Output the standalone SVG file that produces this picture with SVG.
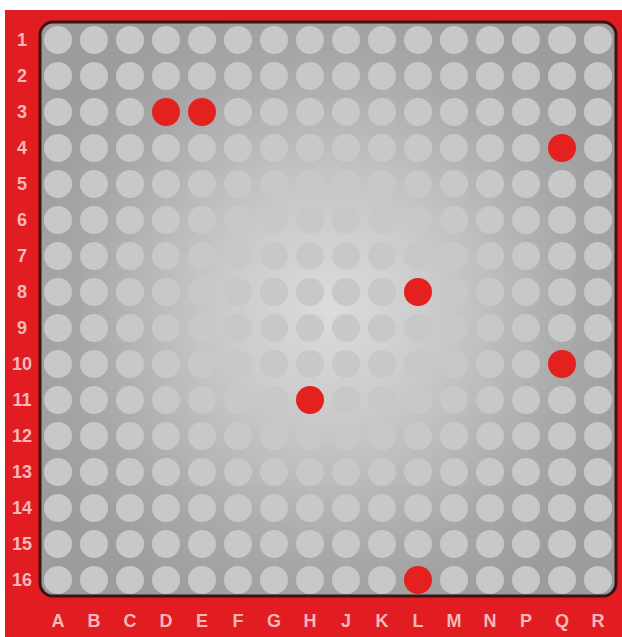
<svg xmlns="http://www.w3.org/2000/svg" width="622" height="637" viewBox="0 0 622 637">
<defs>
<radialGradient id="bg" cx="330" cy="310" r="330" gradientUnits="userSpaceOnUse">
<stop offset="0" stop-color="#dcdcdc"/>
<stop offset="0.35" stop-color="#c9c9c9"/>
<stop offset="0.75" stop-color="#a8a8a8"/>
<stop offset="1" stop-color="#9c9c9c"/>
</radialGradient>
<style>
.lbl{font-family:"Liberation Sans",Arial,sans-serif;font-weight:bold;font-size:18px;fill:#f5b9b9;text-anchor:middle}
.h{fill:#c8c8c8}
.r{fill:#e3211f}
</style>
</defs>
<rect x="0" y="0" width="622" height="637" fill="#ffffff"/>
<rect x="5" y="10" width="617" height="627" fill="#e11d22"/>
<rect x="40" y="22" width="576" height="574" rx="13" fill="url(#bg)" stroke="#3d1212" stroke-width="3"/>
<g id="holes">
<g id="row1"><circle class="h" cx="58" cy="40" r="14"/><circle class="h" cx="94" cy="40" r="14"/><circle class="h" cx="130" cy="40" r="14"/><circle class="h" cx="166" cy="40" r="14"/><circle class="h" cx="202" cy="40" r="14"/><circle class="h" cx="238" cy="40" r="14"/><circle class="h" cx="274" cy="40" r="14"/><circle class="h" cx="310" cy="40" r="14"/><circle class="h" cx="346" cy="40" r="14"/><circle class="h" cx="382" cy="40" r="14"/><circle class="h" cx="418" cy="40" r="14"/><circle class="h" cx="454" cy="40" r="14"/><circle class="h" cx="490" cy="40" r="14"/><circle class="h" cx="526" cy="40" r="14"/><circle class="h" cx="562" cy="40" r="14"/><circle class="h" cx="598" cy="40" r="14"/></g>
<g id="row2"><circle class="h" cx="58" cy="76" r="14"/><circle class="h" cx="94" cy="76" r="14"/><circle class="h" cx="130" cy="76" r="14"/><circle class="h" cx="166" cy="76" r="14"/><circle class="h" cx="202" cy="76" r="14"/><circle class="h" cx="238" cy="76" r="14"/><circle class="h" cx="274" cy="76" r="14"/><circle class="h" cx="310" cy="76" r="14"/><circle class="h" cx="346" cy="76" r="14"/><circle class="h" cx="382" cy="76" r="14"/><circle class="h" cx="418" cy="76" r="14"/><circle class="h" cx="454" cy="76" r="14"/><circle class="h" cx="490" cy="76" r="14"/><circle class="h" cx="526" cy="76" r="14"/><circle class="h" cx="562" cy="76" r="14"/><circle class="h" cx="598" cy="76" r="14"/></g>
<g id="row3"><circle class="h" cx="58" cy="112" r="14"/><circle class="h" cx="94" cy="112" r="14"/><circle class="h" cx="130" cy="112" r="14"/><circle class="r" cx="166" cy="112" r="14"/><circle class="r" cx="202" cy="112" r="14"/><circle class="h" cx="238" cy="112" r="14"/><circle class="h" cx="274" cy="112" r="14"/><circle class="h" cx="310" cy="112" r="14"/><circle class="h" cx="346" cy="112" r="14"/><circle class="h" cx="382" cy="112" r="14"/><circle class="h" cx="418" cy="112" r="14"/><circle class="h" cx="454" cy="112" r="14"/><circle class="h" cx="490" cy="112" r="14"/><circle class="h" cx="526" cy="112" r="14"/><circle class="h" cx="562" cy="112" r="14"/><circle class="h" cx="598" cy="112" r="14"/></g>
<g id="row4"><circle class="h" cx="58" cy="148" r="14"/><circle class="h" cx="94" cy="148" r="14"/><circle class="h" cx="130" cy="148" r="14"/><circle class="h" cx="166" cy="148" r="14"/><circle class="h" cx="202" cy="148" r="14"/><circle class="h" cx="238" cy="148" r="14"/><circle class="h" cx="274" cy="148" r="14"/><circle class="h" cx="310" cy="148" r="14"/><circle class="h" cx="346" cy="148" r="14"/><circle class="h" cx="382" cy="148" r="14"/><circle class="h" cx="418" cy="148" r="14"/><circle class="h" cx="454" cy="148" r="14"/><circle class="h" cx="490" cy="148" r="14"/><circle class="h" cx="526" cy="148" r="14"/><circle class="r" cx="562" cy="148" r="14"/><circle class="h" cx="598" cy="148" r="14"/></g>
<g id="row5"><circle class="h" cx="58" cy="184" r="14"/><circle class="h" cx="94" cy="184" r="14"/><circle class="h" cx="130" cy="184" r="14"/><circle class="h" cx="166" cy="184" r="14"/><circle class="h" cx="202" cy="184" r="14"/><circle class="h" cx="238" cy="184" r="14"/><circle class="h" cx="274" cy="184" r="14"/><circle class="h" cx="310" cy="184" r="14"/><circle class="h" cx="346" cy="184" r="14"/><circle class="h" cx="382" cy="184" r="14"/><circle class="h" cx="418" cy="184" r="14"/><circle class="h" cx="454" cy="184" r="14"/><circle class="h" cx="490" cy="184" r="14"/><circle class="h" cx="526" cy="184" r="14"/><circle class="h" cx="562" cy="184" r="14"/><circle class="h" cx="598" cy="184" r="14"/></g>
<g id="row6"><circle class="h" cx="58" cy="220" r="14"/><circle class="h" cx="94" cy="220" r="14"/><circle class="h" cx="130" cy="220" r="14"/><circle class="h" cx="166" cy="220" r="14"/><circle class="h" cx="202" cy="220" r="14"/><circle class="h" cx="238" cy="220" r="14"/><circle class="h" cx="274" cy="220" r="14"/><circle class="h" cx="310" cy="220" r="14"/><circle class="h" cx="346" cy="220" r="14"/><circle class="h" cx="382" cy="220" r="14"/><circle class="h" cx="418" cy="220" r="14"/><circle class="h" cx="454" cy="220" r="14"/><circle class="h" cx="490" cy="220" r="14"/><circle class="h" cx="526" cy="220" r="14"/><circle class="h" cx="562" cy="220" r="14"/><circle class="h" cx="598" cy="220" r="14"/></g>
<g id="row7"><circle class="h" cx="58" cy="256" r="14"/><circle class="h" cx="94" cy="256" r="14"/><circle class="h" cx="130" cy="256" r="14"/><circle class="h" cx="166" cy="256" r="14"/><circle class="h" cx="202" cy="256" r="14"/><circle class="h" cx="238" cy="256" r="14"/><circle class="h" cx="274" cy="256" r="14"/><circle class="h" cx="310" cy="256" r="14"/><circle class="h" cx="346" cy="256" r="14"/><circle class="h" cx="382" cy="256" r="14"/><circle class="h" cx="418" cy="256" r="14"/><circle class="h" cx="454" cy="256" r="14"/><circle class="h" cx="490" cy="256" r="14"/><circle class="h" cx="526" cy="256" r="14"/><circle class="h" cx="562" cy="256" r="14"/><circle class="h" cx="598" cy="256" r="14"/></g>
<g id="row8"><circle class="h" cx="58" cy="292" r="14"/><circle class="h" cx="94" cy="292" r="14"/><circle class="h" cx="130" cy="292" r="14"/><circle class="h" cx="166" cy="292" r="14"/><circle class="h" cx="202" cy="292" r="14"/><circle class="h" cx="238" cy="292" r="14"/><circle class="h" cx="274" cy="292" r="14"/><circle class="h" cx="310" cy="292" r="14"/><circle class="h" cx="346" cy="292" r="14"/><circle class="h" cx="382" cy="292" r="14"/><circle class="r" cx="418" cy="292" r="14"/><circle class="h" cx="454" cy="292" r="14"/><circle class="h" cx="490" cy="292" r="14"/><circle class="h" cx="526" cy="292" r="14"/><circle class="h" cx="562" cy="292" r="14"/><circle class="h" cx="598" cy="292" r="14"/></g>
<g id="row9"><circle class="h" cx="58" cy="328" r="14"/><circle class="h" cx="94" cy="328" r="14"/><circle class="h" cx="130" cy="328" r="14"/><circle class="h" cx="166" cy="328" r="14"/><circle class="h" cx="202" cy="328" r="14"/><circle class="h" cx="238" cy="328" r="14"/><circle class="h" cx="274" cy="328" r="14"/><circle class="h" cx="310" cy="328" r="14"/><circle class="h" cx="346" cy="328" r="14"/><circle class="h" cx="382" cy="328" r="14"/><circle class="h" cx="418" cy="328" r="14"/><circle class="h" cx="454" cy="328" r="14"/><circle class="h" cx="490" cy="328" r="14"/><circle class="h" cx="526" cy="328" r="14"/><circle class="h" cx="562" cy="328" r="14"/><circle class="h" cx="598" cy="328" r="14"/></g>
<g id="row10"><circle class="h" cx="58" cy="364" r="14"/><circle class="h" cx="94" cy="364" r="14"/><circle class="h" cx="130" cy="364" r="14"/><circle class="h" cx="166" cy="364" r="14"/><circle class="h" cx="202" cy="364" r="14"/><circle class="h" cx="238" cy="364" r="14"/><circle class="h" cx="274" cy="364" r="14"/><circle class="h" cx="310" cy="364" r="14"/><circle class="h" cx="346" cy="364" r="14"/><circle class="h" cx="382" cy="364" r="14"/><circle class="h" cx="418" cy="364" r="14"/><circle class="h" cx="454" cy="364" r="14"/><circle class="h" cx="490" cy="364" r="14"/><circle class="h" cx="526" cy="364" r="14"/><circle class="r" cx="562" cy="364" r="14"/><circle class="h" cx="598" cy="364" r="14"/></g>
<g id="row11"><circle class="h" cx="58" cy="400" r="14"/><circle class="h" cx="94" cy="400" r="14"/><circle class="h" cx="130" cy="400" r="14"/><circle class="h" cx="166" cy="400" r="14"/><circle class="h" cx="202" cy="400" r="14"/><circle class="h" cx="238" cy="400" r="14"/><circle class="h" cx="274" cy="400" r="14"/><circle class="r" cx="310" cy="400" r="14"/><circle class="h" cx="346" cy="400" r="14"/><circle class="h" cx="382" cy="400" r="14"/><circle class="h" cx="418" cy="400" r="14"/><circle class="h" cx="454" cy="400" r="14"/><circle class="h" cx="490" cy="400" r="14"/><circle class="h" cx="526" cy="400" r="14"/><circle class="h" cx="562" cy="400" r="14"/><circle class="h" cx="598" cy="400" r="14"/></g>
<g id="row12"><circle class="h" cx="58" cy="436" r="14"/><circle class="h" cx="94" cy="436" r="14"/><circle class="h" cx="130" cy="436" r="14"/><circle class="h" cx="166" cy="436" r="14"/><circle class="h" cx="202" cy="436" r="14"/><circle class="h" cx="238" cy="436" r="14"/><circle class="h" cx="274" cy="436" r="14"/><circle class="h" cx="310" cy="436" r="14"/><circle class="h" cx="346" cy="436" r="14"/><circle class="h" cx="382" cy="436" r="14"/><circle class="h" cx="418" cy="436" r="14"/><circle class="h" cx="454" cy="436" r="14"/><circle class="h" cx="490" cy="436" r="14"/><circle class="h" cx="526" cy="436" r="14"/><circle class="h" cx="562" cy="436" r="14"/><circle class="h" cx="598" cy="436" r="14"/></g>
<g id="row13"><circle class="h" cx="58" cy="472" r="14"/><circle class="h" cx="94" cy="472" r="14"/><circle class="h" cx="130" cy="472" r="14"/><circle class="h" cx="166" cy="472" r="14"/><circle class="h" cx="202" cy="472" r="14"/><circle class="h" cx="238" cy="472" r="14"/><circle class="h" cx="274" cy="472" r="14"/><circle class="h" cx="310" cy="472" r="14"/><circle class="h" cx="346" cy="472" r="14"/><circle class="h" cx="382" cy="472" r="14"/><circle class="h" cx="418" cy="472" r="14"/><circle class="h" cx="454" cy="472" r="14"/><circle class="h" cx="490" cy="472" r="14"/><circle class="h" cx="526" cy="472" r="14"/><circle class="h" cx="562" cy="472" r="14"/><circle class="h" cx="598" cy="472" r="14"/></g>
<g id="row14"><circle class="h" cx="58" cy="508" r="14"/><circle class="h" cx="94" cy="508" r="14"/><circle class="h" cx="130" cy="508" r="14"/><circle class="h" cx="166" cy="508" r="14"/><circle class="h" cx="202" cy="508" r="14"/><circle class="h" cx="238" cy="508" r="14"/><circle class="h" cx="274" cy="508" r="14"/><circle class="h" cx="310" cy="508" r="14"/><circle class="h" cx="346" cy="508" r="14"/><circle class="h" cx="382" cy="508" r="14"/><circle class="h" cx="418" cy="508" r="14"/><circle class="h" cx="454" cy="508" r="14"/><circle class="h" cx="490" cy="508" r="14"/><circle class="h" cx="526" cy="508" r="14"/><circle class="h" cx="562" cy="508" r="14"/><circle class="h" cx="598" cy="508" r="14"/></g>
<g id="row15"><circle class="h" cx="58" cy="544" r="14"/><circle class="h" cx="94" cy="544" r="14"/><circle class="h" cx="130" cy="544" r="14"/><circle class="h" cx="166" cy="544" r="14"/><circle class="h" cx="202" cy="544" r="14"/><circle class="h" cx="238" cy="544" r="14"/><circle class="h" cx="274" cy="544" r="14"/><circle class="h" cx="310" cy="544" r="14"/><circle class="h" cx="346" cy="544" r="14"/><circle class="h" cx="382" cy="544" r="14"/><circle class="h" cx="418" cy="544" r="14"/><circle class="h" cx="454" cy="544" r="14"/><circle class="h" cx="490" cy="544" r="14"/><circle class="h" cx="526" cy="544" r="14"/><circle class="h" cx="562" cy="544" r="14"/><circle class="h" cx="598" cy="544" r="14"/></g>
<g id="row16"><circle class="h" cx="58" cy="580" r="14"/><circle class="h" cx="94" cy="580" r="14"/><circle class="h" cx="130" cy="580" r="14"/><circle class="h" cx="166" cy="580" r="14"/><circle class="h" cx="202" cy="580" r="14"/><circle class="h" cx="238" cy="580" r="14"/><circle class="h" cx="274" cy="580" r="14"/><circle class="h" cx="310" cy="580" r="14"/><circle class="h" cx="346" cy="580" r="14"/><circle class="h" cx="382" cy="580" r="14"/><circle class="r" cx="418" cy="580" r="14"/><circle class="h" cx="454" cy="580" r="14"/><circle class="h" cx="490" cy="580" r="14"/><circle class="h" cx="526" cy="580" r="14"/><circle class="h" cx="562" cy="580" r="14"/><circle class="h" cx="598" cy="580" r="14"/></g>
</g>
<g id="row-labels">
<text x="22" y="46" class="lbl">1</text><text x="22" y="82" class="lbl">2</text><text x="22" y="118" class="lbl">3</text><text x="22" y="154" class="lbl">4</text><text x="22" y="190" class="lbl">5</text><text x="22" y="226" class="lbl">6</text><text x="22" y="262" class="lbl">7</text><text x="22" y="298" class="lbl">8</text><text x="22" y="334" class="lbl">9</text><text x="22" y="370" class="lbl">10</text><text x="22" y="406" class="lbl">11</text><text x="22" y="442" class="lbl">12</text><text x="22" y="478" class="lbl">13</text><text x="22" y="514" class="lbl">14</text><text x="22" y="550" class="lbl">15</text><text x="22" y="586" class="lbl">16</text>
</g>
<g id="col-labels">
<text x="58" y="627" class="lbl">A</text><text x="94" y="627" class="lbl">B</text><text x="130" y="627" class="lbl">C</text><text x="166" y="627" class="lbl">D</text><text x="202" y="627" class="lbl">E</text><text x="238" y="627" class="lbl">F</text><text x="274" y="627" class="lbl">G</text><text x="310" y="627" class="lbl">H</text><text x="346" y="627" class="lbl">J</text><text x="382" y="627" class="lbl">K</text><text x="418" y="627" class="lbl">L</text><text x="454" y="627" class="lbl">M</text><text x="490" y="627" class="lbl">N</text><text x="526" y="627" class="lbl">P</text><text x="562" y="627" class="lbl">Q</text><text x="598" y="627" class="lbl">R</text>
</g>
</svg>
